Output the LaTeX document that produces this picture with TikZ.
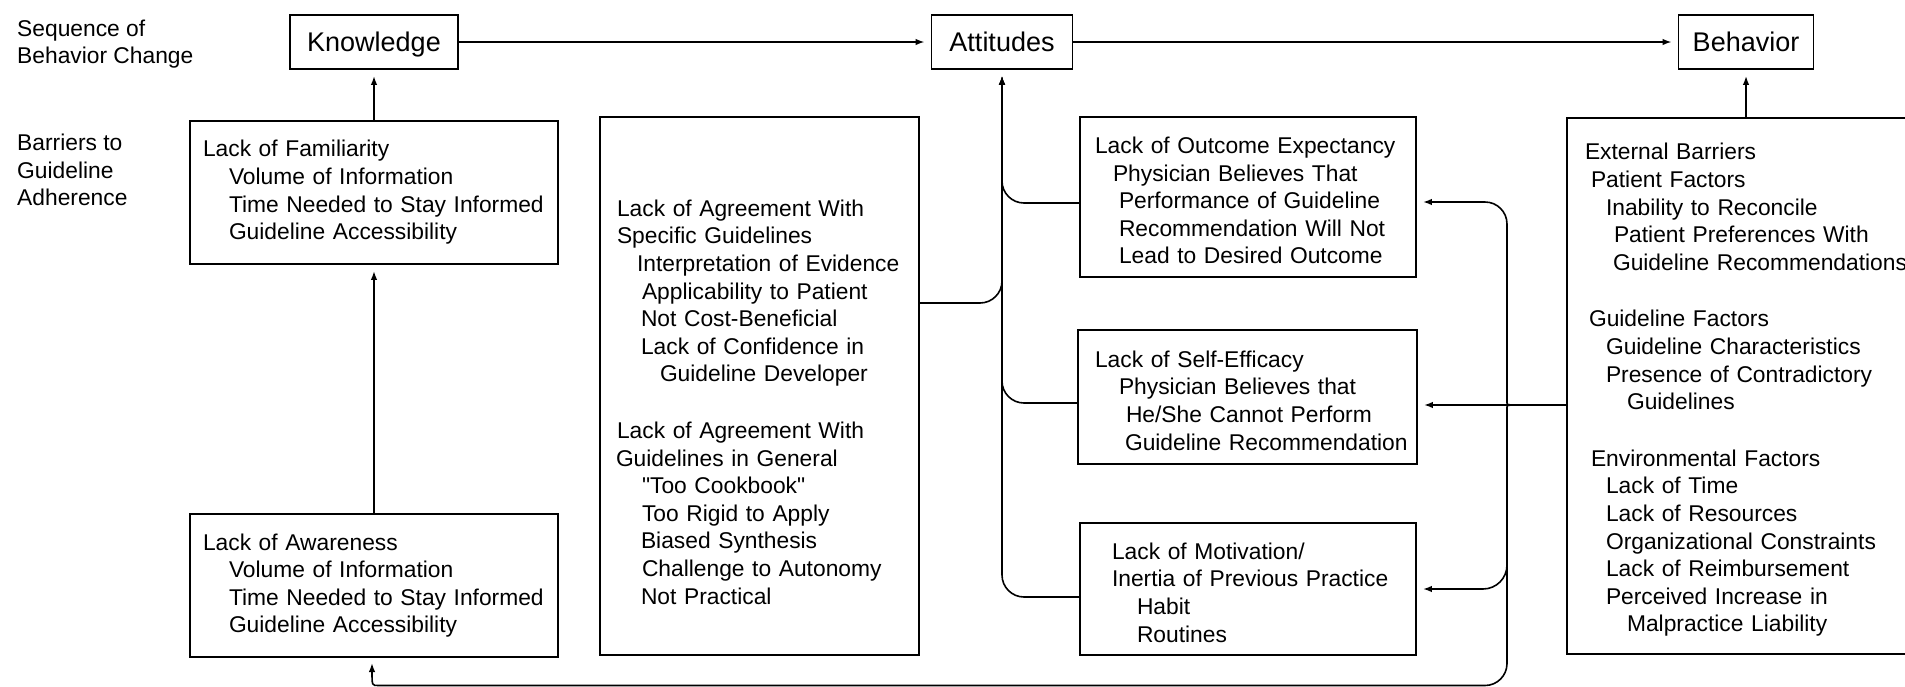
\documentclass[tikz,border=0pt]{standalone}
\usepackage{fontspec}
\setmainfont{Liberation Sans}
\usetikzlibrary{arrows.meta}
\setlength{\parindent}{0pt}
\newcommand{\bodyfont}{\fontsize{22.8pt}{27.6pt}\selectfont}
\newcommand{\headfont}{\fontsize{27pt}{32pt}\selectfont}
\newcommand{\indt}[1]{\hspace*{#1pt}}
\tikzset{
  stage/.style={draw, line width=1.8pt, minimum height=54pt, inner sep=0pt, text height=19.5pt, text depth=0pt, font=\headfont},
  barrier/.style={draw, line width=1.8pt, inner xsep=4pt, inner ysep=0pt, align=left, font=\bodyfont},
  side/.style={align=left, anchor=west, inner sep=0pt, font=\bodyfont},
  conn/.style={line width=1.6pt, shorten >=6pt},
}

\begin{document}
\begin{tikzpicture}[x=1pt, y=-1pt, >={Latex[length=9pt,width=6.5pt]}]
\useasboundingbox (0,0) rectangle (1905,686);
\clip (0,0) rectangle (1905,686);
\node[side] (seq_lbl) at (17,44) {Sequence of\\Behavior Change};
\node[side] (barr_lbl) at (17,170) {Barriers to\\Guideline\\Adherence};
\node[stage, minimum width=168pt] (know) at (374,42) {Knowledge};
\node[stage, minimum width=141pt] (att) at (1002,42) {Attitudes};
\node[stage, minimum width=135pt] (beh) at (1746,42) {Behavior};
\node[barrier, minimum width=368pt, text width=360pt, minimum height=143pt] (fam) at (374,192.5) {\indt{9}Lack of Familiarity\\
\indt{35}Volume of Information\\
\indt{35}Time Needed to Stay Informed\\
\indt{35}Guideline Accessibility};
\node[barrier, minimum width=368pt, text width=360pt, minimum height=143pt] (aware) at (374,585.5) {\indt{9}Lack of Awareness\\
\indt{35}Volume of Information\\
\indt{35}Time Needed to Stay Informed\\
\indt{35}Guideline Accessibility};
\node[barrier, minimum width=319pt, text width=311pt, minimum height=538pt] (agree) at (759.5,386) {\mbox{}\\[21pt]
\indt{13}Lack of Agreement With\\
\indt{13}Specific Guidelines\\
\indt{33}Interpretation of Evidence\\
\indt{38}Applicability to Patient\\
\indt{37}Not Cost-Beneficial\\
\indt{37}Lack of Confidence in\\
\indt{56}Guideline Developer\\[29pt]
\indt{13}Lack of Agreement With\\
\indt{12}Guidelines in General\\
\indt{38}\textquotedbl Too Cookbook\textquotedbl\\
\indt{38}Too Rigid to Apply\\
\indt{37}Biased Synthesis\\
\indt{38}Challenge to Autonomy\\
\indt{37}Not Practical};
\node[barrier, minimum width=336pt, text width=328pt, minimum height=160pt] (outc) at (1248,197) {\mbox{}\\[-4pt]
\indt{11}Lack of Outcome Expectancy\\
\indt{29}Physician Believes That\\
\indt{35}Performance of Guideline\\
\indt{35}Recommendation Will Not\\
\indt{35}Lead to Desired Outcome};
\node[barrier, minimum width=339pt, text width=331pt, minimum height=134pt] (selfe) at (1247.5,397) {\mbox{}\\[-4pt]
\indt{13}Lack of Self-Efficacy\\
\indt{37}Physician Believes that\\
\indt{44}He/She Cannot Perform\\
\indt{43}Guideline Recommendation};
\node[barrier, minimum width=336pt, text width=328pt, minimum height=132pt] (motiv) at (1248,589) {\mbox{}\\[-4pt]
\indt{28}Lack of Motivation/\\
\indt{28}Inertia of Previous Practice\\
\indt{53}Habit\\
\indt{53}Routines};
\node[barrier, minimum width=363pt, text width=355pt, minimum height=536pt] (ext) at (1748.5,386) {\mbox{}\\[-3pt]
\indt{14}External Barriers\\
\indt{20}Patient Factors\\
\indt{35}Inability to Reconcile\\
\indt{43}Patient Preferences With\\
\indt{42}Guideline Recommendations\\[29pt]
\indt{18}Guideline Factors\\
\indt{35}Guideline Characteristics\\
\indt{35}Presence of Contradictory\\
\indt{56}Guidelines\\[29pt]
\indt{20}Environmental Factors\\
\indt{35}Lack of Time\\
\indt{35}Lack of Resources\\
\indt{35}Organizational Constraints\\
\indt{35}Lack of Reimbursement\\
\indt{35}Perceived Increase in\\
\indt{56}Malpractice Liability};
\coordinate (j_outc) at (1002,203);
\coordinate (j_agree) at (1002,303);
\coordinate (j_self) at (1002,403);
\coordinate (j_motiv) at (1002,597);
\coordinate (brace) at (1524,405);
\coordinate (brace_up) at (1507,381);
\coordinate (brace_dn) at (1507,429);
\coordinate (r_outc) at (1507,202);
\coordinate (r_mtop) at (1507,540);
\coordinate (r_motiv) at (1507,589);
\coordinate (r_bot) at (1507,685.5);
\coordinate (l_bot) at (372,685.5);
\coordinate (l_bot_r) at (400,685.5);
\coordinate (aware_in) at (372,657);
\draw[conn, ->] (know.east) -- (att.west);
\draw[conn, ->] (att.east) -- (beh.west);
\draw[conn, ->] (fam.north) -- (know.south);
\draw[conn, ->] (aware.north) -- (fam.south);
\draw[conn, ->] (ext.north -| beh.south) -- (beh.south);
\draw[conn, ->, rounded corners=22pt] (agree.east |- j_agree) -- (j_agree) -- (att.south);
\draw[conn, ->, rounded corners=22pt] (outc.west |- j_outc) -- (j_outc) -- (att.south);
\draw[conn, ->, rounded corners=22pt] (selfe.west |- j_self) -- (j_self) -- (att.south);
\draw[conn, ->, rounded corners=22pt] (motiv.west |- j_motiv) -- (j_motiv) -- (att.south);
\draw[conn, ->] (ext.west |- brace) -- (selfe.east |- brace);
\draw[conn, ->, rounded corners=22pt] (brace) .. controls (brace -| r_outc) .. (brace_up) -- (r_outc) -- (outc.east |- r_outc);
\draw[conn, ->, rounded corners=24pt] (r_mtop) -- (r_motiv) -- (motiv.east |- r_motiv);
\draw[conn, ->, rounded corners=22pt] (brace) .. controls (brace -| r_outc) .. (brace_dn) -- (r_bot) -- (l_bot_r) .. controls (l_bot) .. (aware_in);
\end{tikzpicture}
\end{document}
